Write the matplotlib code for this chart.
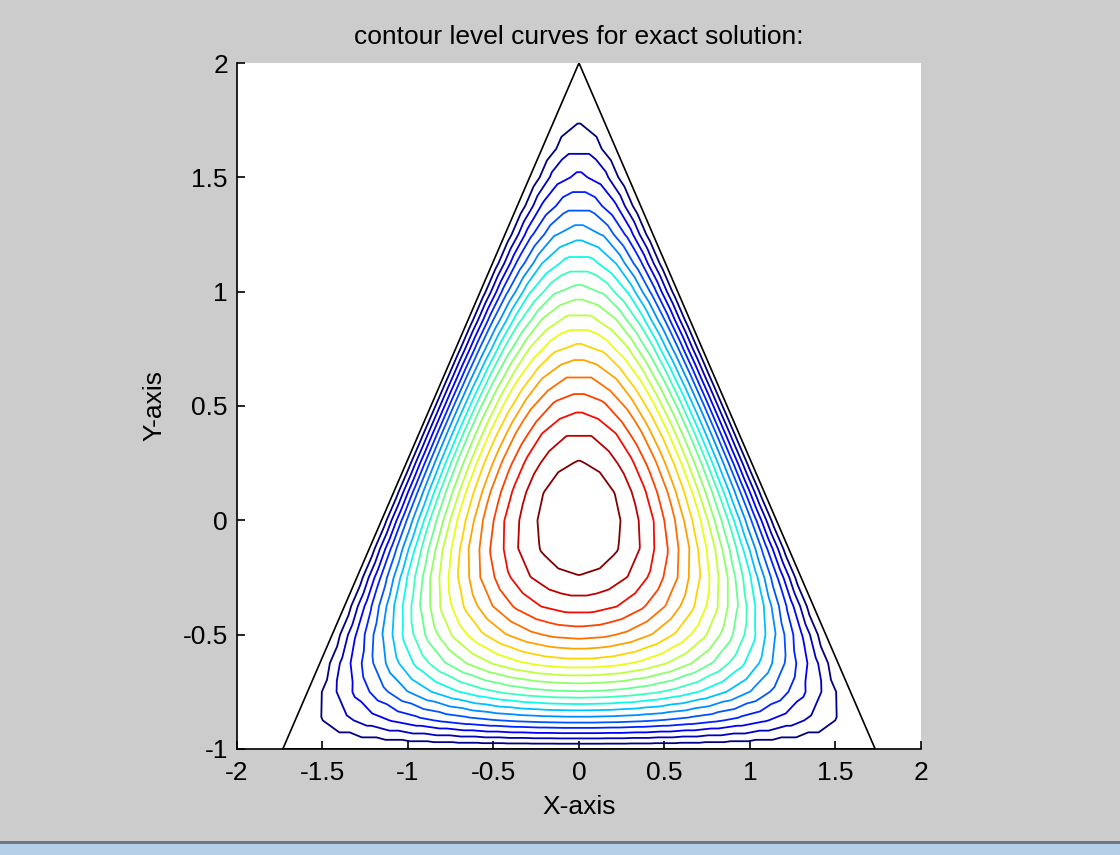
import numpy as np
import matplotlib
matplotlib.use("Agg")
import matplotlib.pyplot as plt
import matplotlib.tri as mtri
from matplotlib.patches import Rectangle

# triangle vertices (x, y)
tri_x = [-np.sqrt(3), np.sqrt(3), 0.0]
tri_y = [-1.0, -1.0, 2.0]
n_levels = 20
n_sub = 24          # mesh subdivisions per side
u_max = 4.0         # value at centroid

xticks = [-2, -1.5, -1, -0.5, 0, 0.5, 1, 1.5, 2]
yticks = [-1, -0.5, 0, 0.5, 1, 1.5, 2]


def exact(x, y):
    # product of the three edge functions
    return (y + 1) * (2 - y - np.sqrt(3) * x) * (2 - y + np.sqrt(3) * x)


# uniform triangular mesh of the domain
px, py = [], []
for i in range(n_sub + 1):
    for j in range(n_sub + 1 - i):
        a, b = i / n_sub, j / n_sub
        px.append(tri_x[0] + a * (tri_x[1] - tri_x[0]) + b * (tri_x[2] - tri_x[0]))
        py.append(tri_y[0] + a * (tri_y[1] - tri_y[0]) + b * (tri_y[2] - tri_y[0]))
px = np.array(px)
py = np.array(py)
mesh = mtri.Triangulation(px, py)
u = np.clip(exact(px, py), 0, None)

levels = np.linspace(0, u_max, n_levels + 2)[1:-1]

plt.rcParams['font.family'] = ['Liberation Sans', 'DejaVu Sans']
fig = plt.figure(figsize=(11.2, 8.55), dpi=100)
fig.patch.set_facecolor('#cccccc')
ax = fig.add_axes([0.2116, 0.124, 0.6107, 0.8023])

ax.tricontour(mesh, u, levels=levels, cmap='jet', linewidths=1.3)
ax.plot(tri_x + [tri_x[0]], tri_y + [tri_y[0]], color='black', lw=1.2)

ax.set_xlim(-2, 2)
ax.set_ylim(-1, 2)
ax.set_xticks(xticks)
ax.set_yticks(yticks)
ax.set_xticklabels(['-2', '-1.5', '-1', '-0.5', '0', '0.5', '1', '1.5', '2'])
ax.set_yticklabels(['-1', '-0.5', '0', '0.5', '1', '1.5', '2'])
ax.spines['top'].set_visible(False)
ax.spines['right'].set_visible(False)
for s in ['left', 'bottom']:
    ax.spines[s].set_linewidth(1.2)
ax.tick_params(direction='in', length=6, width=1.2, labelsize=19)
ax.tick_params(axis='x', pad=9)
ax.tick_params(axis='y', pad=6.5)
ax.set_xlabel('X-axis', fontsize=19, labelpad=7)
ax.set_ylabel('Y-axis', fontsize=19, labelpad=12)
ax.set_title('contour level curves for exact solution:', fontsize=19, pad=14)

# window border at the bottom
fig.patches.append(Rectangle((0, 0), 1, 13 / 855, transform=fig.transFigure,
                             facecolor='#b6cfe8', edgecolor='none'))
fig.patches.append(Rectangle((0, 11 / 855), 1, 3 / 855, transform=fig.transFigure,
                             facecolor='#6f7780', edgecolor='none'))

fig.savefig('out.png', dpi=100, facecolor=fig.get_facecolor())
